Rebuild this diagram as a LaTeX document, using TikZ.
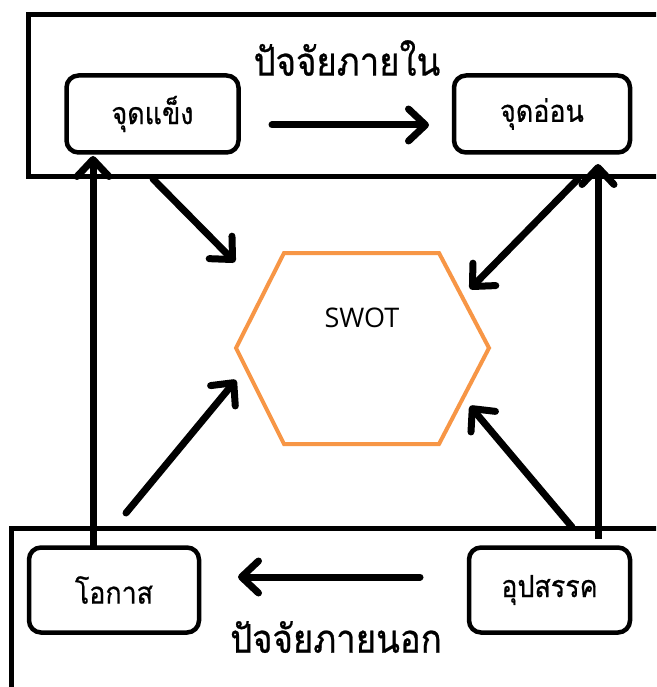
\documentclass[tikz,border=0pt]{standalone}
\usepackage{fontspec}
\usetikzlibrary{arrows.meta}
\newfontfamily\thaifont[Script=Thai, FakeStretch=0.88, FakeBold=0.6]{Loma}
\newfontfamily\swotfont{Open Sans}
\newcommand{\lowtxt}[1]{\raisebox{-4pt}{#1}}
\definecolor{hexorange}{HTML}{F79646}
\tikzset{
  box/.style={draw, line width=4.5pt, rounded corners=12pt, fill=white, inner sep=0pt, font=\thaifont\fontsize{30.5}{34}\selectfont},
  frame/.style={draw, line width=5pt},
  bigarrow/.style={line width=7pt, line cap=round, -{Straight Barb[length=17pt,width=32pt,round]}},
  title/.style={font=\thaifont\fontsize{39.5}{44}\selectfont, inner sep=0pt}
}
\begin{document}
\begin{tikzpicture}[x=1pt,y=-1pt]
\useasboundingbox (0,0) rectangle (656,687);
\clip (0,0) rectangle (656,687);
\fill[white] (0,0) rectangle (656,687);
% frames
\draw[frame] (28,15) rectangle (680,176);
\draw[frame] (11,528) rectangle (680,700);
% titles
\node[title] (inner) at (347,58) {ปัจจัยภายใน};
\node[title] (outer) at (336,637) {ปัจจัยภายนอก};
% boxes
\node[box, minimum width=172pt, minimum height=77pt] (S) at (152.5,114) {\lowtxt{จุดแข็ง}};
\node[box, minimum width=176pt, minimum height=77pt] (W) at (542,114) {\lowtxt{จุดอ่อน}};
\node[box, minimum width=170pt, minimum height=85pt] (O) at (114,590) {\lowtxt{โอกาส}};
\node[box, minimum width=161pt, minimum height=85pt] (T) at (549.5,590) {\lowtxt{อุปสรรค}};
% hexagon
\coordinate (hL) at (236,348);
\coordinate (hTL) at (284,253);
\coordinate (hTR) at (439,253);
\coordinate (hR) at (489,348);
\coordinate (hBR) at (439,444);
\coordinate (hBL) at (284,444);
\draw[hexorange, line width=4pt, line join=miter] (hL) -- (hTL) -- (hTR) -- (hR) -- (hBR) -- (hBL) -- cycle;
\node[font=\swotfont\fontsize{27}{30}\selectfont, inner sep=0pt] (swot) at (362,318) {SWOT};
% arrow end points
\coordinate (a1s) at (153,179);
\coordinate (a1e) at (235,262);
\coordinate (a2s) at (578,179);
\coordinate (a2e) at (470,289);
\coordinate (a3s) at (126,513);
\coordinate (a3e) at (236,380);
\coordinate (a4s) at (572,527);
\coordinate (a4e) at (470,406);
\coordinate (hs) at (272,125);
\coordinate (he) at (429,125);
\coordinate (bs) at (420,577);
\coordinate (be) at (238,577);
\coordinate (v1s) at (93,548);
\coordinate (v1e) at (93,156);
\coordinate (v2s) at (598,539);
\coordinate (v2e) at (598,164);
% arrows
\draw[bigarrow] (hs) -- (he);
\draw[bigarrow] (bs) -- (be);
\draw[bigarrow] (a1s) -- (a1e);
\draw[bigarrow] (a2s) -- (a2e);
\draw[bigarrow] (a3s) -- (a3e);
\draw[bigarrow] (a4s) -- (a4e);
\draw[bigarrow, line cap=butt] (v1s) -- (v1e);
\draw[bigarrow, line cap=butt] (v2s) -- (v2e);
\end{tikzpicture}
\end{document}
